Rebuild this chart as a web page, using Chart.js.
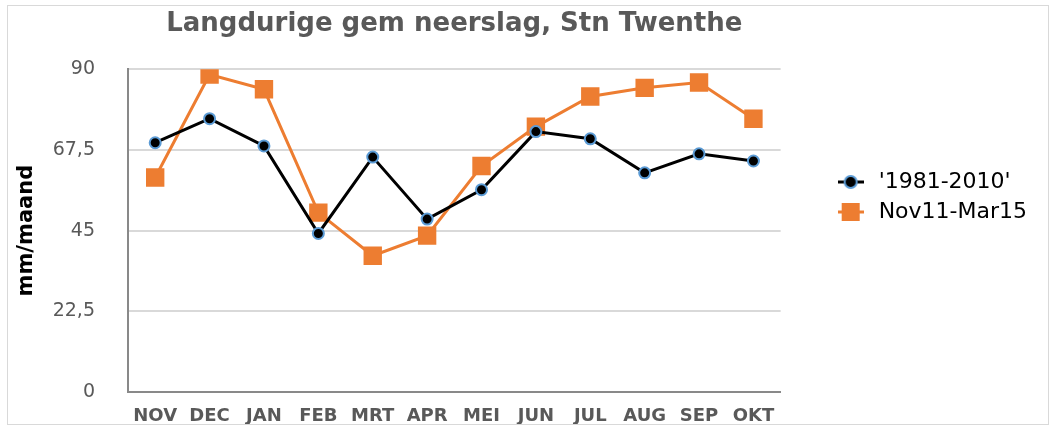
<!DOCTYPE html>
<html>
<head>
<meta charset="utf-8">
<script src="https://cdn.jsdelivr.net/npm/chart.js@4"></script>
<style>
  html,body{margin:0;padding:0;background:#fff;}
  #box{position:absolute;left:7px;top:5px;width:1042px;height:420px;border:1px solid #d9d9d9;box-sizing:border-box;}
  #c{display:block;}
</style>
</head>
<body>
<div id="box"><canvas id="c" width="1040" height="418"></canvas></div>
<script>
  // Data
  const months=['NOV','DEC','JAN','FEB','MRT','APR','MEI','JUN','JUL','AUG','SEP','OKT'];
  const normaal=[69.5,76.2,68.6,44.2,65.5,48.2,56.4,72.6,70.6,61.1,66.4,64.4];
  const periode=[59.8,88.5,84.4,50.0,38.0,43.6,63.0,74.0,82.4,84.8,86.3,76.2];
  const yTicks=[0,22.5,45,67.5,90];
  const names=["'1981-2010'",'Nov11-Mar15'];

  const FONT='"DejaVu Sans", Verdana, sans-serif';
  const C={orange:'#ed7d31',blue:'#5b9bd5',black:'#000',grid:'#d9d9d9',axis:'#898989',txt:'#595959'};

  // legend swatch: line through marker
  function swatch(kind){
    const cv=document.createElement('canvas'); cv.width=26; cv.height=20;
    const x=cv.getContext('2d');
    x.lineWidth=3; x.strokeStyle=kind?C.orange:C.black;
    x.beginPath(); x.moveTo(0,10); x.lineTo(26,10); x.stroke();
    if(kind){x.fillStyle=C.orange; x.fillRect(4,1,18,18);}
    else{x.beginPath(); x.arc(13,10,6,0,Math.PI*2); x.fillStyle=C.black; x.fill(); x.lineWidth=2; x.strokeStyle=C.blue; x.stroke();}
    return cv;
  }
  const swatches=[swatch(0),swatch(1)];

  // legend: extra room on its left, and sit a bit higher
  const EXTRA=48, SHIFT=45;
  const legendPos={id:'legendPos',
    beforeLayout(ch){const l=ch.legend; if(l&&!l._wrapped){const f=l.fit.bind(l); l.fit=function(){f(); this.width+=EXTRA;}; l._wrapped=true;}},
    afterLayout(ch){const l=ch.legend; if(l){l.left+=SHIFT; l.bottom-=36;}}
  };

  new Chart(document.getElementById('c'),{
    type:'line',
    data:{labels:months,datasets:[
      {label:names[0],data:normaal,borderColor:C.black,borderWidth:3,pointStyle:'circle',pointRadius:5.5,pointBorderWidth:2,pointBackgroundColor:C.black,pointBorderColor:C.blue,tension:0},
      {label:names[1],data:periode,borderColor:C.orange,borderWidth:3,pointStyle:'rect',pointRadius:13,pointBorderWidth:0,pointBackgroundColor:C.orange,pointBorderColor:C.orange,tension:0}
    ]},
    options:{
      responsive:false,animation:false,
      layout:{padding:{left:4,right:8,top:0,bottom:0}},
      plugins:{
        title:{display:true,text:'Langdurige gem neerslag, Stn Twenthe',fullSize:false,color:C.txt,font:{family:FONT,size:26,weight:'bold'},padding:{top:3,bottom:29}},
        legend:{position:'right',align:'center',labels:{
          color:'#000',font:{family:FONT,size:22},usePointStyle:true,pointStyleWidth:34,padding:8,
          generateLabels:ch=>ch.data.datasets.map((d,i)=>({text:d.label,pointStyle:swatches[i],datasetIndex:i,fontColor:'#000',lineWidth:0,strokeStyle:'transparent',fillStyle:'transparent'}))
        }},
        tooltip:{enabled:false}
      },
      scales:{
        x:{offset:true,grid:{display:false,drawTicks:false},border:{color:C.axis,width:2},
           afterFit:ax=>{ax.height=32; ax.paddingLeft=ax.paddingRight=0;},
           ticks:{color:C.txt,padding:14,font:{family:FONT,size:18,weight:'bold'}}},
        y:{min:0,max:90,afterBuildTicks:ax=>{ax.ticks=yTicks.map(v=>({value:v}));},
           afterFit:ax=>{ax.width=116; ax.paddingTop=ax.paddingBottom=0;},
           grid:{color:C.grid,lineWidth:2,drawTicks:false},border:{color:C.axis,width:2},
           ticks:{color:C.txt,padding:33,font:{family:FONT,size:19},callback:v=>String(v).replace('.',',')},
           title:{display:true,text:'mm/maand',color:'#000',font:{family:FONT,size:21,weight:'bold'},padding:{top:2,bottom:11}}}
      }
    },
    plugins:[legendPos]
  });
</script>
</body>
</html>
